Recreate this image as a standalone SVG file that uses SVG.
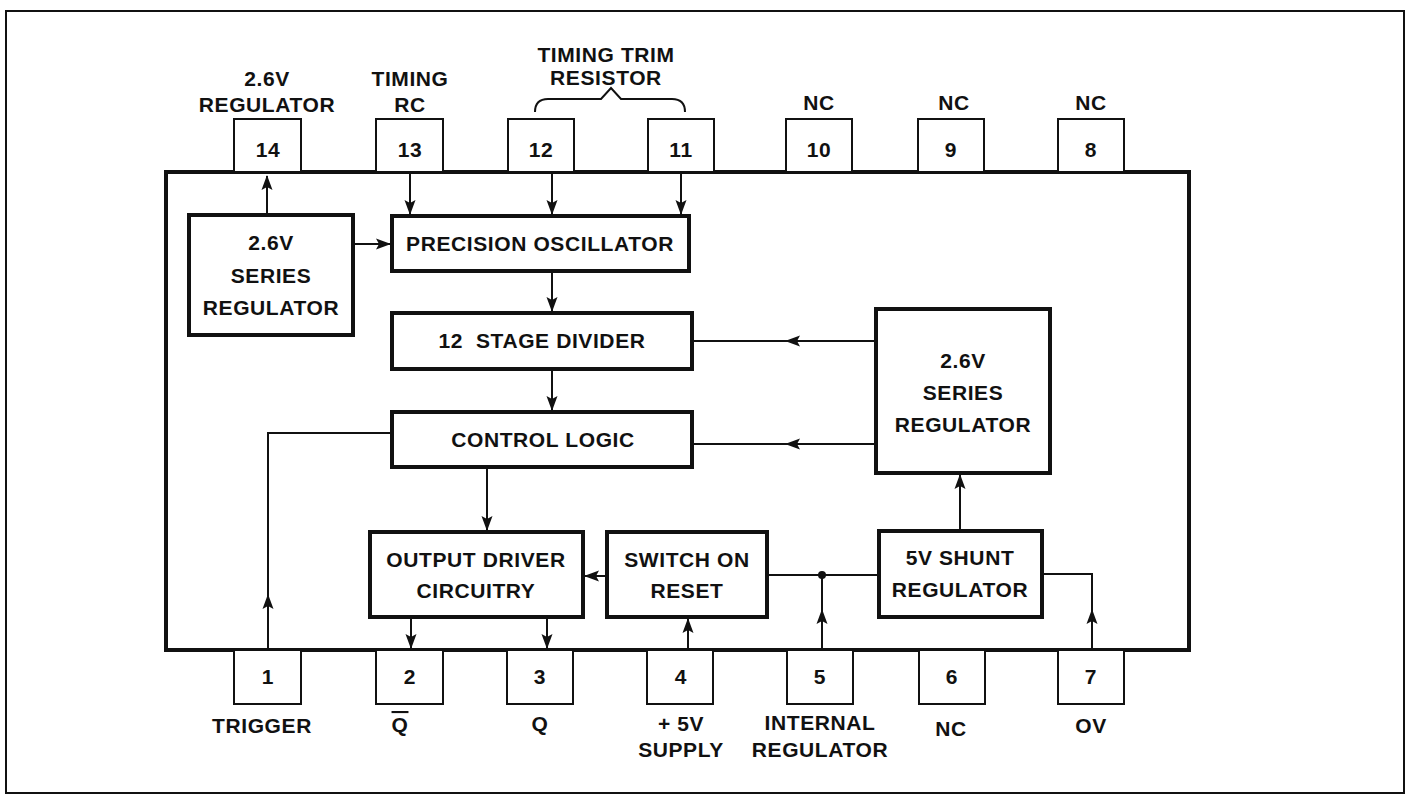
<svg xmlns="http://www.w3.org/2000/svg" width="1413" height="794" viewBox="0 0 1413 794">
<style>
text{font-family:"Liberation Sans",Arial,sans-serif;font-weight:bold;font-size:21px;letter-spacing:0.6px;text-anchor:middle;fill:#111}
.pre{white-space:pre}
.frame{fill:none;stroke:#111;stroke-width:2}
.body{fill:none;stroke:#111;stroke-width:4}
.blk{fill:#fff;stroke:#111;stroke-width:4}
.pin{fill:#fff;stroke:#111;stroke-width:2}
.w{fill:none;stroke:#111;stroke-width:2}
.ol{text-decoration:overline}
</style>
<defs>
<marker id="ah" markerUnits="userSpaceOnUse" markerWidth="16" markerHeight="12" refX="14" refY="6" orient="auto">
<path d="M0,0.5 L15,6 L0,11.5 L3,6 Z" fill="#111"/>
</marker>
</defs>
<rect x="0" y="0" width="1413" height="794" fill="#fff"/>
<rect class="frame" x="6" y="11" width="1398" height="782"/>
<g id="chip"><rect class="body" x="166" y="172" width="1023" height="478"/></g>

<g id="pin14"><rect class="pin" x="234" y="119" width="67" height="53"/><text x="268" y="157">14</text><text x="267" y="86">2.6V</text><text x="267" y="112">REGULATOR</text></g>
<g id="pin13"><rect class="pin" x="376" y="119" width="67" height="53"/><text x="410" y="157">13</text><text x="410" y="86">TIMING</text><text x="410" y="112">RC</text></g>
<g id="pin12"><rect class="pin" x="508" y="119" width="66" height="53"/><text x="541" y="157">12</text></g>
<g id="pin11"><rect class="pin" x="648" y="119" width="66" height="53"/><text x="681" y="157">11</text></g>
<g id="trimlabel"><text x="606" y="62">TIMING TRIM</text><text x="606" y="85">RESISTOR</text><path class="w" d="M535,112 Q535,99 548,99 L601,99 L611,88 L621,99 L672,99 Q685,99 685,112"/></g>
<g id="pin10"><rect class="pin" x="786" y="119" width="66" height="53"/><text x="819" y="157">10</text><text x="819" y="110">NC</text></g>
<g id="pin9"><rect class="pin" x="918" y="119" width="66" height="53"/><text x="951" y="157">9</text><text x="954" y="110">NC</text></g>
<g id="pin8"><rect class="pin" x="1058" y="119" width="66" height="53"/><text x="1091" y="157">8</text><text x="1091" y="110">NC</text></g>

<g id="pin1"><rect class="pin" x="234" y="650" width="67" height="54"/><text x="268" y="684">1</text><text x="262" y="733">TRIGGER</text></g>
<g id="pin2"><rect class="pin" x="376" y="650" width="67" height="54"/><text x="410" y="684">2</text><text x="400" y="732" class="ol">Q</text></g>
<g id="pin3"><rect class="pin" x="507" y="650" width="66" height="54"/><text x="540" y="684">3</text><text x="540" y="731">Q</text></g>
<g id="pin4"><rect class="pin" x="647" y="650" width="66" height="54"/><text x="681" y="684">4</text><text x="681" y="731">+ 5V</text><text x="681" y="757">SUPPLY</text></g>
<g id="pin5"><rect class="pin" x="787" y="650" width="66" height="54"/><text x="820" y="684">5</text><text x="820" y="730">INTERNAL</text><text x="820" y="757">REGULATOR</text></g>
<g id="pin6"><rect class="pin" x="919" y="650" width="66" height="54"/><text x="952" y="684">6</text><text x="951" y="736">NC</text></g>
<g id="pin7"><rect class="pin" x="1058" y="650" width="66" height="54"/><text x="1091" y="684">7</text><text x="1091" y="733">OV</text></g>

<g id="reg_left"><rect class="blk" x="189" y="215" width="164" height="120"/><text x="271" y="250">2.6V</text><text x="271" y="283">SERIES</text><text x="271" y="315">REGULATOR</text></g>
<g id="osc"><rect class="blk" x="392" y="216" width="297" height="55"/><text x="540" y="251">PRECISION OSCILLATOR</text></g>
<g id="divider"><rect class="blk" x="392" y="313" width="300" height="56"/><text class="pre" x="542" y="348" xml:space="preserve">12  STAGE DIVIDER</text></g>
<g id="control"><rect class="blk" x="392" y="412" width="300" height="55"/><text x="543" y="447">CONTROL LOGIC</text></g>
<g id="reg_right"><rect class="blk" x="876" y="309" width="174" height="164"/><text x="963" y="368">2.6V</text><text x="963" y="400">SERIES</text><text x="963" y="432">REGULATOR</text></g>
<g id="output"><rect class="blk" x="370" y="532" width="213" height="85"/><text x="476" y="567">OUTPUT DRIVER</text><text x="476" y="598">CIRCUITRY</text></g>
<g id="switch"><rect class="blk" x="607" y="532" width="160" height="85"/><text x="687" y="567">SWITCH ON</text><text x="687" y="598">RESET</text></g>
<g id="shunt"><rect class="blk" x="879" y="531" width="163" height="86"/><text x="960" y="565">5V SHUNT</text><text x="960" y="597">REGULATOR</text></g>

<g id="connectors">
<line class="w" x1="267" y1="213" x2="267" y2="176" marker-end="url(#ah)"/>
<line class="w" x1="410" y1="174" x2="410" y2="214" marker-end="url(#ah)"/>
<line class="w" x1="552" y1="174" x2="552" y2="214" marker-end="url(#ah)"/>
<line class="w" x1="681" y1="174" x2="681" y2="214" marker-end="url(#ah)"/>
<line class="w" x1="355" y1="244" x2="390" y2="244" marker-end="url(#ah)"/>
<line class="w" x1="552" y1="273" x2="552" y2="311" marker-end="url(#ah)"/>
<line class="w" x1="552" y1="371" x2="552" y2="410" marker-end="url(#ah)"/>
<line class="w" x1="487" y1="469" x2="487" y2="530" marker-end="url(#ah)"/>
<line class="w" x1="874" y1="341" x2="786" y2="341" marker-end="url(#ah)"/>
<line class="w" x1="788" y1="341" x2="694" y2="341"/>
<line class="w" x1="874" y1="444" x2="786" y2="444" marker-end="url(#ah)"/>
<line class="w" x1="788" y1="444" x2="694" y2="444"/>
<line class="w" x1="960" y1="529" x2="960" y2="475" marker-end="url(#ah)"/>
<line class="w" x1="268" y1="649" x2="268" y2="595" marker-end="url(#ah)"/>
<path class="w" d="M268,597 L268,433 L390,433"/>
<line class="w" x1="411" y1="619" x2="411" y2="648" marker-end="url(#ah)"/>
<line class="w" x1="547" y1="619" x2="547" y2="648" marker-end="url(#ah)"/>
<line class="w" x1="688" y1="649" x2="688" y2="619" marker-end="url(#ah)"/>
<line class="w" x1="605" y1="576" x2="585" y2="576" marker-end="url(#ah)"/>
<line class="w" x1="877" y1="575" x2="769" y2="575"/>
<circle cx="822" cy="575" r="4" fill="#111"/>
<line class="w" x1="822" y1="649" x2="822" y2="610" marker-end="url(#ah)"/>
<line class="w" x1="822" y1="612" x2="822" y2="575"/>
<path class="w" d="M1044,574 L1092,574 L1092,612"/>
<line class="w" x1="1092" y1="649" x2="1092" y2="610" marker-end="url(#ah)"/>
</g>
</svg>
